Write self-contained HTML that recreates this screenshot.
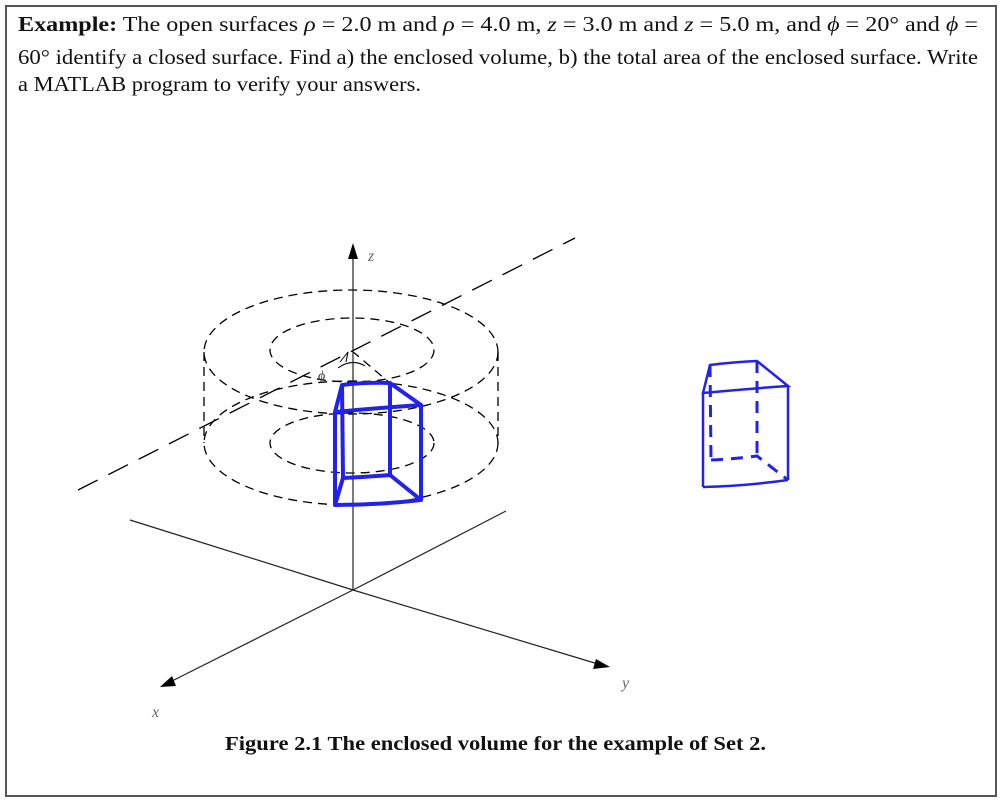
<!DOCTYPE html>
<html><head><style>
html,body{margin:0;padding:0;background:#fff;}
svg{display:block;}
text{font-family:"Liberation Serif",serif;}
</style></head><body>
<svg width="1002" height="801" viewBox="0 0 1002 801" xmlns="http://www.w3.org/2000/svg">
<rect x="6" y="6" width="990" height="790" fill="#fff" stroke="#555" stroke-width="2"/>
<g font-size="21" fill="#111">
<text x="18" y="31" textLength="960" lengthAdjust="spacingAndGlyphs"><tspan font-weight="bold">Example:</tspan> The open surfaces  <tspan font-style="italic">ρ</tspan> = 2.0 m and  <tspan font-style="italic">ρ</tspan> = 4.0 m, <tspan font-style="italic">z</tspan> = 3.0 m  and <tspan font-style="italic">z</tspan> = 5.0 m, and  <tspan font-style="italic">ϕ</tspan> = 20°  and  <tspan font-style="italic">ϕ</tspan> =</text>
<text x="18" y="64" textLength="960" lengthAdjust="spacingAndGlyphs">60°  identify a closed surface. Find a) the enclosed volume, b) the total area of the enclosed surface. Write</text>
<text x="18" y="91" textLength="403" lengthAdjust="spacingAndGlyphs">a MATLAB program to verify your answers.</text>
</g>
<g stroke="#000" fill="none" stroke-width="1.3" stroke-dasharray="9,6">
<ellipse cx="351" cy="352" rx="147" ry="62"/>
<ellipse cx="351" cy="443" rx="147" ry="62"/>
<line x1="204" y1="352" x2="204" y2="443"/>
<line x1="498" y1="352" x2="498" y2="443"/>
<ellipse cx="352" cy="350" rx="82" ry="32"/>
<ellipse cx="352" cy="443" rx="82" ry="30"/>
<line x1="78" y1="490" x2="575" y2="238" stroke-dasharray="22,12"/>
<line x1="352" y1="351" x2="390" y2="383"/>
</g>
<g stroke="#000" fill="none" stroke-width="1">
<path d="M338 368 Q352 358 365 366"/>
<path d="M340 362 L348 352 L346 362"/>
<text x="318" y="380" font-size="14" font-style="italic" fill="#333" stroke="none">ϕ</text>
</g>
<g stroke="#222" stroke-width="1.2">
<line x1="353" y1="255" x2="353" y2="590"/>
<line x1="353" y1="590" x2="130" y2="520"/>
<line x1="353" y1="590" x2="170" y2="682"/>
<line x1="353" y1="590" x2="598" y2="664"/>
<line x1="353" y1="590" x2="506" y2="511"/>
</g>
<polygon points="353,243 348,259 358,259" fill="#000"/>
<polygon points="160,687 172,676 176,686" fill="#000"/>
<polygon points="610,667 596,659 593,669" fill="#000"/>
<g font-size="16" font-style="italic" fill="#666">
<text x="368" y="261">z</text>
<text x="622" y="688">y</text>
<text x="152" y="717">x</text>
</g>
<g stroke="#2222ee" stroke-width="4" fill="none" stroke-linejoin="round">
<path d="M342 385 Q366 382 390 383 L421 405 Q378 408 335 412 Z"/>
<path d="M343 478 Q366 477 390 475 L421 500 Q378 505 335 505 Z"/>
<line x1="335" y1="412" x2="335" y2="505"/>
<line x1="342" y1="385" x2="343" y2="478"/>
<line x1="390" y1="383" x2="390" y2="475"/>
<line x1="421" y1="405" x2="421" y2="500"/>
</g>
<g stroke="#2222ee" stroke-width="2.5" fill="none">
<path d="M710 365 Q734 362 757 361 L788 386 Q745 389 703 393 Z"/>
<line x1="703" y1="393" x2="703" y2="487"/>
<line x1="788" y1="386" x2="788" y2="480"/>
<path d="M703 487 Q745 486 788 480"/>
<g stroke-dasharray="12,8" stroke-width="3">
<line x1="710" y1="365" x2="711" y2="460"/>
<line x1="757" y1="361" x2="757" y2="456"/>
<path d="M711 460 Q734 459 757 456 L788 480"/>
</g>
</g>
<text x="225" y="750" font-size="20" font-weight="bold" fill="#111" textLength="541" lengthAdjust="spacingAndGlyphs">Figure 2.1 The enclosed volume for the example of Set 2.</text>
</svg>
</body></html>
